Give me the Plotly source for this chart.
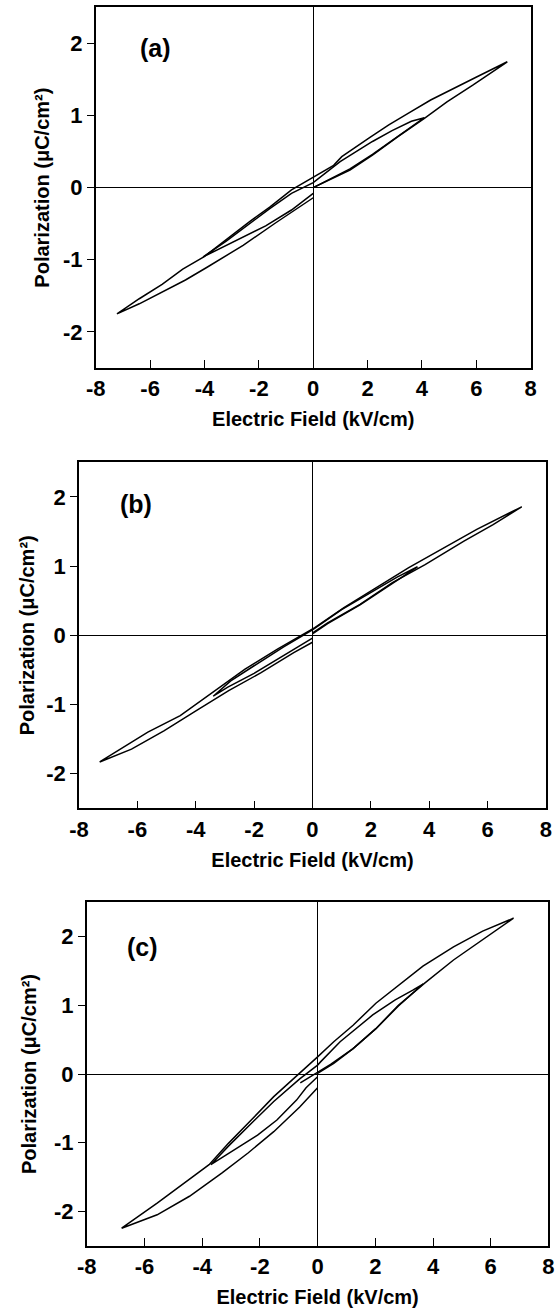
import plotly.graph_objects as go

# ---------------- data ----------------
# Panel (a): outer loop (about +/-7.2 kV/cm) and inner loop (about +/-4 kV/cm)
a_outer_E = [0.0, 0.63, 1.35, 2.18, 3.13, 4.09, 4.92, 5.87, 7.14,
             5.99, 4.32, 3.49, 2.78, 2.06, 1.05, 0.75, 0.0, -0.80, -1.60, -2.34,
             -3.20, -4.01, -4.80, -5.56, -6.40, -7.22,
             -6.40, -5.56, -4.70, -3.89, -2.58, -1.39, -0.70, 0.0]
a_outer_P = [0.0, 0.11, 0.245, 0.45, 0.71, 0.96, 1.19, 1.42, 1.745,
             1.53, 1.215, 1.03, 0.87, 0.69, 0.43, 0.31, 0.14, -0.03, -0.27, -0.47,
             -0.72, -0.955, -1.13, -1.34, -1.54, -1.75,
             -1.61, -1.45, -1.28, -1.10, -0.80, -0.49, -0.32, -0.14]
a_inner_E = [0.0, 0.63, 1.35, 2.18, 3.13, 4.09,
             3.61, 2.90, 2.18, 1.47, 0.99, 0.0, -0.80, -1.60, -2.40, -3.20, -4.05,
             -3.42, -2.58, -1.75, -0.80, -0.30, 0.0]
a_inner_P = [0.0, 0.12, 0.26, 0.46, 0.72, 0.97,
             0.92, 0.79, 0.64, 0.48, 0.36, 0.07, -0.08, -0.29, -0.51, -0.74, -0.96,
             -0.84, -0.68, -0.53, -0.31, -0.17, -0.08]

# Panel (b)
b_outer_E = [0.02, 0.52, 1.63, 2.74, 3.86, 5.19, 6.19, 7.17,
             5.63, 4.52, 3.30, 2.19, 1.08, 0.08, -1.20, -2.31, -3.42, -4.53, -5.64, -6.76, -7.29,
             -6.20, -5.09, -3.98, -2.87, -1.76, -0.64, 0.0]
b_outer_P = [0.04, 0.18, 0.447, 0.76, 1.02, 1.36, 1.60, 1.857,
             1.53, 1.265, 0.977, 0.688, 0.40, 0.11, -0.20, -0.49, -0.83, -1.16, -1.40, -1.69, -1.83,
             -1.645, -1.38, -1.09, -0.80, -0.54, -0.25, -0.10]
b_inner_E = [0.0, 0.52, 1.63, 2.74, 3.60,
             2.90, 2.00, 1.00, 0.0, -1.00, -2.00, -2.80, -3.40,
             -2.90, -2.00, -1.00, 0.0]
b_inner_P = [0.02, 0.17, 0.44, 0.75, 0.99,
             0.84, 0.62, 0.37, 0.08, -0.17, -0.44, -0.66, -0.88,
             -0.75, -0.55, -0.30, -0.04]

# Panel (c)
c_outer_E = [0.0, 0.56, 1.23, 2.02, 2.80, 3.70, 4.71, 5.72, 6.79,
             5.72, 4.71, 3.65, 2.80, 2.02, 1.23, 0.56, 0.0, -0.62, -1.52, -2.30, -3.09,
             -3.76, -4.55, -5.56, -6.79,
             -5.56, -4.44, -3.31, -2.41, -1.52, -0.62, 0.0]
c_outer_P = [0.01, 0.155, 0.37, 0.66, 1.00, 1.32, 1.66, 1.95, 2.27,
             2.08, 1.85, 1.57, 1.29, 1.03, 0.71, 0.47, 0.25, 0.01, -0.33, -0.67, -1.01,
             -1.32, -1.57, -1.88, -2.245,
             -2.05, -1.78, -1.44, -1.15, -0.84, -0.48, -0.20]
c_inner_E = [-0.60, 0.0, 0.45, 1.23, 2.02, 2.80, 3.65,
             3.30, 2.69, 1.91, 1.12, 0.78, 0.11, 0.0, -0.62, -1.52, -2.30, -3.09, -3.70,
             -2.98, -2.08, -1.41, -0.73, -0.40, 0.0]
c_inner_P = [-0.13, 0.02, 0.14, 0.37, 0.66, 0.99, 1.31,
             1.22, 1.08, 0.86, 0.59, 0.47, 0.18, 0.13, -0.07, -0.40, -0.72, -1.05, -1.32,
             -1.13, -0.89, -0.67, -0.38, -0.20, -0.04]

panel_labels = ["(a)", "(b)", "(c)"]
x_tickvals = [-8, -6, -4, -2, 0, 2, 4, 6, 8]
x_ticktext = ["-8", "-6", "-4", "-2", "0", "2", "4", "6", "8"]
y_tickvals = [-2, -1, 0, 1, 2]
y_ticktext = ["-2", "-1", "0", "1", "2"]
x_title = "Electric Field (kV/cm)"
y_title = "Polarization (\u03bcC/cm\u00b2)"

# ---------------- figure ----------------
W, H = 560, 1308
FONT = "Liberation Sans, Arial, Helvetica, sans-serif"

# plot-area boxes in pixels: (left, top, right, bottom)
boxes = [(88.3, 7.3, 536.0, 368.0),
         (71.0, 462.3, 551.7, 808.3),
         (79.0, 902.3, 554.3, 1245.7)]
label_pos = [(-5.81, 1.93), (-6.03, 1.90), (-6.08, 1.85)]
ytitle_standoff = [8, 6, 12]

loops = [(a_outer_E, a_outer_P, a_inner_E, a_inner_P),
         (b_outer_E, b_outer_P, b_inner_E, b_inner_P),
         (c_outer_E, c_outer_P, c_inner_E, c_inner_P)]

fig = go.Figure()
layout = dict(width=W, height=H, margin=dict(l=0, r=0, t=0, b=0),
              paper_bgcolor="white", plot_bgcolor="white", showlegend=False,
              font=dict(family=FONT, size=20, color="black", weight="bold"),
              annotations=[])

for i, (oe, op, ie, ip) in enumerate(loops):
    n = "" if i == 0 else str(i + 1)
    xa, ya = "x" + n, "y" + n
    for E, P in ((oe, op), (ie, ip)):
        fig.add_trace(go.Scatter(x=E, y=P, mode="lines", xaxis=xa, yaxis=ya,
                                 line=dict(color="black", width=1.5),
                                 hoverinfo="skip"))
    l, t, r, b = boxes[i]
    common = dict(showgrid=False, zeroline=True, zerolinecolor="black",
                  zerolinewidth=1, showline=True, linecolor="black",
                  linewidth=1.6, mirror=True, ticklen=7, tickwidth=1.4,
                  tickcolor="black",
                  tickfont=dict(family=FONT, size=22, color="black", weight="bold"))
    layout["xaxis" + n] = dict(common, domain=[l / W, r / W], range=[-8, 8],
                               anchor=ya, tickmode="array", tickvals=x_tickvals,
                               ticktext=x_ticktext, ticks="inside", ticklen=8,
                               title=dict(text=x_title, standoff=12,
                                          font=dict(family=FONT, size=20,
                                                    color="black", weight="bold")))
    layout["yaxis" + n] = dict(common, domain=[1 - b / H, 1 - t / H], range=[-2.5, 2.5],
                               anchor=xa, tickmode="array", tickvals=y_tickvals,
                               ticktext=y_ticktext, ticks="outside",
                               title=dict(text=y_title, standoff=ytitle_standoff[i],
                                          font=dict(family=FONT, size=20,
                                                    color="black", weight="bold")))
    lx, ly = label_pos[i]
    layout["annotations"].append(dict(text=panel_labels[i], x=lx, y=ly, xref=xa, yref=ya,
                                      showarrow=False,
                                      font=dict(family=FONT, size=25, color="black",
                                                weight="bold")))

fig.update_layout(**layout)
fig.write_html("out.html", config={"displayModeBar": False},
               post_script="document.body.style.margin='0';document.body.style.overflow='hidden';")
